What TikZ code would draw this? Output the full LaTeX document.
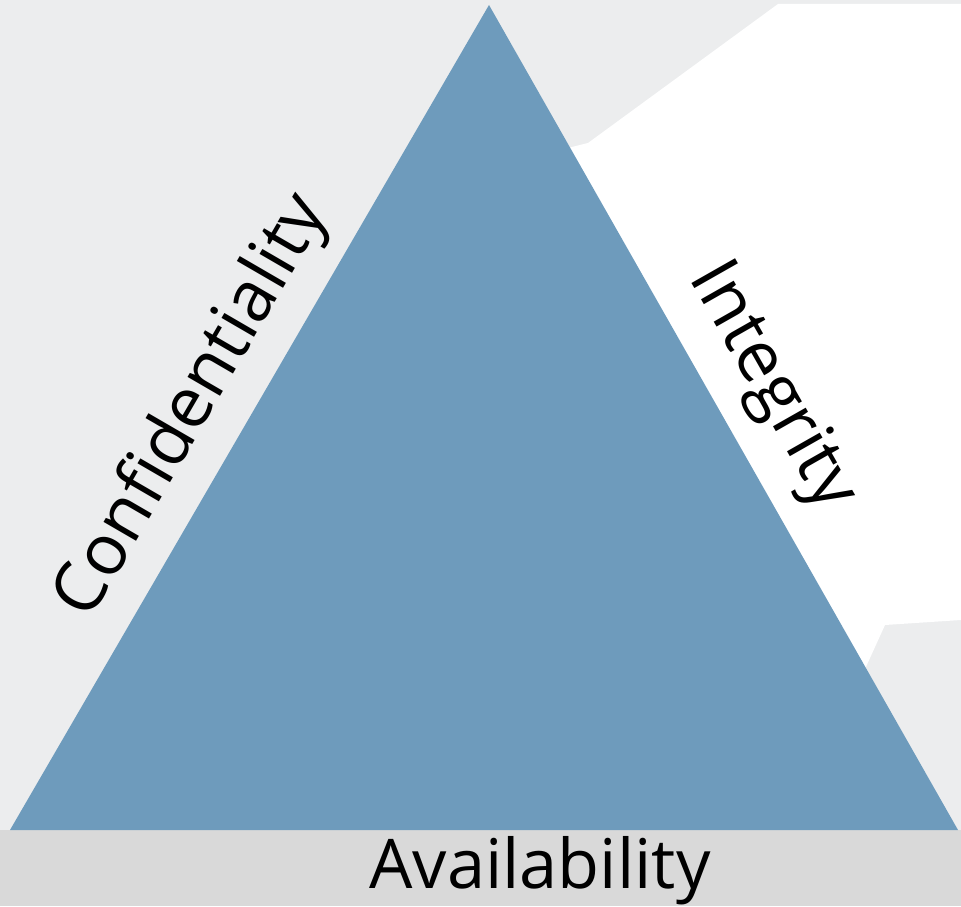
\documentclass[tikz,border=0pt]{standalone}
\usepackage{fontspec}
\newfontfamily\ciafont{Open Sans}
\definecolor{ciablue}{HTML}{6E9BBC}
\definecolor{bgleft}{HTML}{ECEDEE}
\definecolor{bgstrip}{HTML}{D9D9D9}
\tikzset{
	sidelabel/.style={font=\ciafont\fontsize{20}{24}\selectfont,inner sep=0pt,text=black},
	baselabel/.style={font=\ciafont\fontsize{19.5}{24}\selectfont,inner sep=0pt,text=black,anchor=base}
}
\begin{document}
\begin{tikzpicture}[line join=round,line cap=round]
			\useasboundingbox (0,0) rectangle (9.61,9.06);
			\fill[bgleft] (0,0) rectangle (9.61,9.06);
			\fill[white] (7.78,9.02)--(9.61,9.02)--(9.61,2.86)--(8.85,2.81)--(8.60,2.26)--(5.60,7.56)--(5.88,7.63)--cycle;
			\fill[bgstrip] (0,0) rectangle (9.61,0.76);
			\coordinate (top) at (4.89,9.01);
			\coordinate (bl) at (0.10,0.76);
			\coordinate (br) at (9.58,0.76);
			\fill[ciablue] (bl)--(br)--(top)--cycle;
			\path (bl)--(top) node[pos=0.48,sloped,above=0.18cm,sidelabel] (conf) {Confidentiality};
			\path (top)--(br) node[pos=0.497,sloped,above=0.21cm,sidelabel] (integ) {Integrity};
			\node[baselabel] (avail) at (5.40,0.18) {Availability};
		\end{tikzpicture}
\end{document}
